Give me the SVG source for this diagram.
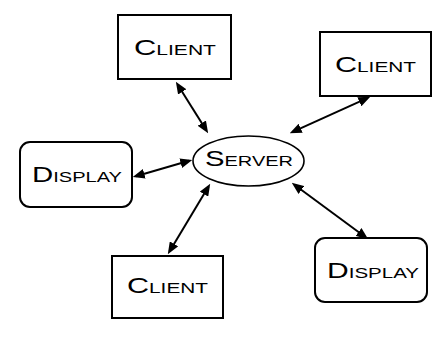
<svg xmlns="http://www.w3.org/2000/svg" width="448" height="338" viewBox="0 0 448 338">
<style>
.box{fill:#fff;stroke:#000;stroke-width:2}
.ell{fill:#fff;stroke:#000;stroke-width:1.6}
.lbl{font-family:"Liberation Sans",Arial,sans-serif;font-size:22px;font-variant:small-caps;text-anchor:start;fill:#000}
.conn line{stroke:#000;stroke-width:2;marker-start:url(#ah);marker-end:url(#ah)}
</style>
<defs>
<marker id="ah" markerUnits="userSpaceOnUse" markerWidth="12" markerHeight="10" viewBox="0 0 11 9" refX="8" refY="4.5" orient="auto-start-reverse">
<path d="M0,0 L11,4.5 L0,9 Z" fill="#000"/>
</marker>
</defs>
<rect width="448" height="338" fill="#fff"/>
<g id="connectors" class="conn">
<line x1="177.6" y1="84.5" x2="206.4" y2="130.5"/>
<line x1="367.3" y1="98.2" x2="292.7" y2="131.8"/>
<line x1="135.9" y1="176.2" x2="189.1" y2="160.8"/>
<line x1="169.5" y1="251.4" x2="208.5" y2="186.6"/>
<line x1="294.4" y1="184.8" x2="365.6" y2="237.2"/>
</g>
<g id="server">
<ellipse class="ell" cx="248.5" cy="161" rx="55.5" ry="25"/>
<text class="lbl" x="205" y="166" textLength="88" lengthAdjust="spacingAndGlyphs">Server</text>
</g>
<g id="client-top">
<rect class="box" x="118" y="15" width="113" height="64"/>
<text class="lbl" x="134" y="55" textLength="82" lengthAdjust="spacingAndGlyphs">Client</text>
</g>
<g id="client-right">
<rect class="box" x="320" y="32" width="111" height="64"/>
<text class="lbl" x="335" y="72" textLength="81" lengthAdjust="spacingAndGlyphs">Client</text>
</g>
<g id="display-left">
<rect class="box" x="20" y="142" width="112" height="65" rx="10"/>
<text class="lbl" x="32" y="182" textLength="90" lengthAdjust="spacingAndGlyphs">Display</text>
</g>
<g id="client-bottom">
<rect class="box" x="112" y="256" width="111" height="62"/>
<text class="lbl" x="127" y="293" textLength="81" lengthAdjust="spacingAndGlyphs">Client</text>
</g>
<g id="display-right">
<rect class="box" x="315" y="238" width="112" height="64" rx="10"/>
<text class="lbl" x="327" y="278" textLength="92" lengthAdjust="spacingAndGlyphs">Display</text>
</g>
</svg>
